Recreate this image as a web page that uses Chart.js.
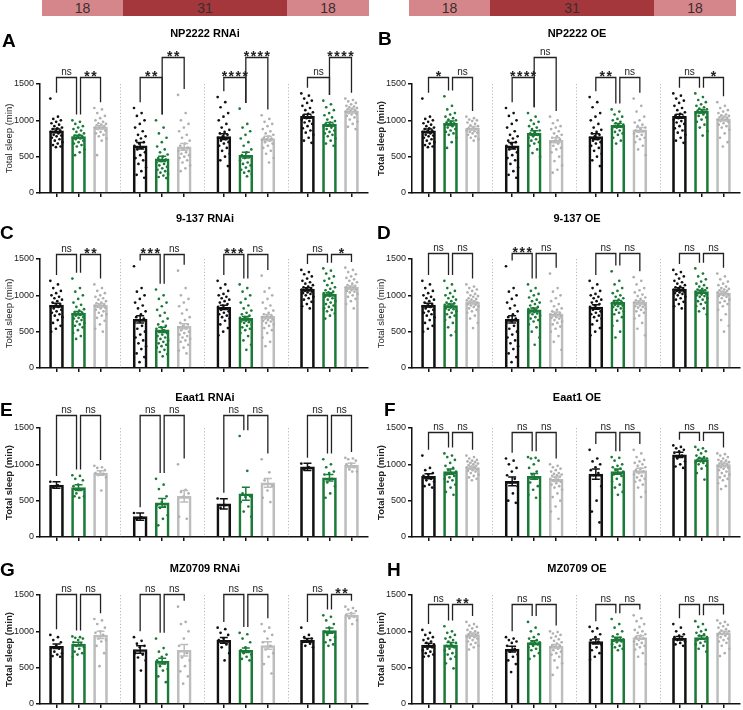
<!DOCTYPE html>
<html>
<head>
<meta charset="utf-8">
<script src="https://cdn.jsdelivr.net/npm/chart.js@4.4.1/dist/chart.umd.min.js"></script>
<style>
html, body { margin: 0; padding: 0; background: #fff; width: 743px; height: 710px; overflow: hidden; font-family: "Liberation Sans", Arial, sans-serif; }
canvas.pan { position: absolute; }
.hdr { position: absolute; top: 0; height: 16px; line-height: 16px; text-align: center; font-size: 14px; color: #3a2e2e; }
.lt { background: #d5868b; }
.dk { background: #a3373b; }
.let { position: absolute; font-weight: bold; font-size: 19px; line-height: 19px; color: #000; z-index: 2; }
.ttl { position: absolute; width: 200px; text-align: center; font-weight: bold; font-size: 11px; line-height: 12px; color: #000; z-index: 2; }
</style>
</head>
<body>
<div id="root"></div>
<script>
// ===== DADOS =====
const tempLabels = ["18", "31", "18"];
const panelIds = ["A", "B", "C", "D", "E", "F", "G", "H"];
const panelTitles = ["NP2222 RNAi", "NP2222 OE", "9-137 RNAi", "9-137 OE", "Eaat1 RNAi", "Eaat1 OE", "MZ0709 RNAi", "MZ0709 OE"];
const yTicks = [0, 500, 1000, 1500];

// A - NP2222 RNAi
const meanA = [855, 775, 905, 650, 470, 635, 775, 520, 750, 1055, 945, 1130];
const semA = [25, 20, 22, 45, 35, 45, 40, 40, 30, 28, 25, 22];
const sigA = ["ns", "**", "**", "**", "****", "****", "ns", "****"];
const levA = [1, 1, 1, 2, 1, 2, 1, 2];
const dotsA = [
  [1300,1050,1020,1000,980,960,940,920,900,890,880,860,850,840,820,800,790,780,760,740,720,700,680,660,640,630],
  [1000,980,950,920,900,880,860,840,820,800,790,780,770,760,750,740,720,700,680,660,640,600,560,520],
  [1170,1150,1100,1060,1030,1000,980,960,950,940,930,920,910,900,890,880,860,840,820,800,780,750,720,520],
  [1170,1100,1060,1000,950,900,850,800,780,750,720,700,680,650,620,600,560,520,480,450,400,350,300,250,210],
  [1000,900,820,760,700,640,600,560,530,500,480,460,440,420,400,380,360,340,320,300,280,260,240,220,205],
  [1350,1100,1000,950,900,850,800,760,720,680,650,620,600,580,560,540,520,500,480,450,420,380,340,300],
  [1320,1250,1180,1100,1050,1000,950,900,870,840,820,800,780,760,740,720,700,680,650,620,580,540,500,450,370],
  [1160,950,900,850,800,750,700,650,600,560,520,500,480,450,420,400,380,350,320,300,280,260,230],
  [1070,1020,980,950,920,880,850,820,800,780,760,750,740,730,720,700,680,650,620,580,540,480,420],
  [1370,1340,1300,1270,1240,1200,1170,1140,1110,1090,1070,1050,1030,1010,990,970,950,920,890,860,830,800,760,720,690],
  [1270,1220,1180,1140,1100,1070,1040,1010,990,970,950,940,930,920,900,880,860,840,820,800,780,750,720,680,650],
  [1300,1280,1260,1240,1220,1200,1190,1180,1170,1160,1150,1140,1130,1120,1110,1100,1090,1080,1060,1040,1010,980,950,910,880]
];

// B - NP2222 OE
const meanB = [855, 960, 895, 650, 825, 725, 775, 930, 870, 1055, 1125, 1020];
const semB = [25, 30, 20, 45, 30, 35, 40, 25, 30, 28, 25, 25];
const sigB = ["*", "ns", "****", "ns", "**", "ns", "ns", "*"];
const levB = [1, 1, 1, 2, 1, 1, 1, 1];
const dotsB = [
  [1300,1050,1020,1000,980,960,940,920,900,890,880,860,850,840,820,800,790,780,760,740,720,700,680,660,640,630],
  [1330,1200,1150,1100,1080,1050,1030,1010,1000,980,970,960,950,940,920,900,880,860,840,820,800,760,700,620],
  [1050,1030,1010,1000,990,970,950,930,920,900,890,880,870,860,850,840,830,820,800,780,760,740,720],
  [1170,1100,1060,1000,950,900,850,800,780,750,720,700,680,650,620,600,560,520,480,450,400,350,300,250,210],
  [1100,1050,1000,980,950,920,900,880,860,840,820,800,780,760,740,720,700,680,650,600,550,500],
  [1050,1000,960,920,900,880,850,820,800,780,760,740,720,700,680,650,620,600,560,500,440,380,320,280],
  [1320,1250,1180,1100,1050,1000,950,900,870,840,820,800,780,760,740,720,700,680,650,620,580,540,500,450,370],
  [1150,1120,1080,1050,1020,1000,980,960,940,930,920,910,900,880,860,840,820,800,760,720,680],
  [1300,1200,1120,1050,1000,970,940,920,900,880,860,850,840,820,800,780,760,740,700,650,600,520],
  [1370,1340,1300,1270,1240,1200,1170,1140,1110,1090,1070,1050,1030,1010,990,970,950,920,890,860,830,800,760,720,690],
  [1370,1320,1280,1250,1220,1200,1180,1160,1150,1140,1130,1120,1110,1100,1080,1060,1040,1010,980,940,900,850,790],
  [1250,1200,1170,1140,1120,1100,1080,1070,1060,1050,1040,1030,1020,1010,1000,990,980,960,940,920,900,870,820,760,700,640]
];

// C - 9-137 RNAi
const meanC = [865, 755, 865, 670, 525, 575, 835, 685, 710, 1085, 1015, 1110];
const semC = [25, 22, 20, 50, 35, 35, 30, 25, 25, 20, 20, 18];
const sigC = ["ns", "**", "***", "ns", "***", "ns", "ns", "*"];
const levC = [1, 1, 1, 1, 1, 1, 1, 1];
const dotsC = [
  [1200,1150,1100,1060,1030,1000,980,960,940,920,900,880,860,850,840,820,800,780,760,740,720,700,660,620,580,540,500],
  [1230,1100,1050,1000,950,900,870,840,810,790,770,760,750,740,730,720,700,690,680,660,640,620,600,580,560,520,480,440,400],
  [1150,1100,1060,1030,1000,980,960,940,920,900,890,880,870,860,850,840,830,820,800,780,760,740,720,690,650,600,540,500],
  [1400,1100,1050,1000,950,900,860,820,780,740,700,680,650,620,580,540,500,460,420,380,340,300,260,200,150,80],
  [1080,1000,950,900,850,800,760,720,680,640,600,580,560,540,520,500,480,460,440,420,400,380,360,340,320,300,280,250,220,190,160],
  [1340,1100,1000,950,900,850,800,750,700,660,620,600,580,560,540,520,500,480,460,440,420,400,380,360,320,280,240,200],
  [1200,1150,1100,1060,1020,1000,980,960,940,920,900,880,860,840,820,800,780,760,740,720,700,680,650,600,550,500,450],
  [1150,1100,1050,1000,950,900,860,820,790,760,740,720,700,690,680,670,660,650,640,630,620,600,580,560,540,520,480,440,380,320,250],
  [1270,1100,1050,1000,950,900,860,820,790,760,740,720,710,700,690,680,670,660,650,640,620,600,580,550,520,480,420,360,300],
  [1350,1320,1290,1260,1230,1200,1180,1160,1140,1120,1110,1100,1090,1080,1070,1060,1050,1040,1030,1020,1000,980,960,940,910,880,850,820],
  [1370,1340,1300,1260,1230,1200,1170,1140,1110,1090,1070,1050,1040,1030,1020,1010,1000,990,980,960,940,920,900,880,860,840,820,800,780,750,720,680],
  [1380,1350,1320,1290,1260,1240,1220,1200,1180,1160,1140,1130,1120,1110,1100,1090,1080,1070,1060,1050,1040,1020,1000,980,950,920,880,820]
];

// D - 9-137 OE
const meanD = [865, 860, 905, 670, 800, 745, 840, 905, 905, 1085, 1050, 1030];
const semD = [25, 20, 15, 50, 25, 25, 30, 25, 20, 20, 20, 18];
const sigD = ["ns", "ns", "***", "ns", "ns", "ns", "ns", "ns"];
const levD = [1, 1, 1, 1, 1, 1, 1, 1];
const dotsD = [
  [1200,1150,1100,1060,1030,1000,980,960,940,920,900,880,860,850,840,820,800,780,760,740,720,700,660,620,580,540,500],
  [1200,1150,1100,1060,1030,1000,980,960,940,920,900,890,880,870,860,850,840,830,820,810,800,780,760,740,720,700,660,620,560,500,450],
  [1150,1120,1100,1080,1060,1040,1020,1000,990,980,960,950,940,930,920,910,900,890,880,870,860,850,840,820,800,780,760,720,680,620,550],
  [1400,1100,1050,1000,950,900,860,820,780,740,700,680,650,620,580,540,500,460,420,380,340,300,260,200,150,80],
  [1150,1100,1060,1020,1000,970,940,920,900,880,860,840,820,810,800,790,780,770,760,750,740,720,700,680,660,640,600,560,500,420,320],
  [1300,1100,1050,1000,960,920,880,850,820,800,780,760,750,740,730,720,710,700,690,680,660,640,620,600,570,540,500,440,360,250],
  [1200,1150,1100,1060,1020,1000,980,960,940,920,900,880,860,840,820,800,780,760,740,720,700,680,650,600,550,500,450],
  [1330,1200,1150,1100,1060,1030,1000,980,960,940,920,910,900,890,880,870,860,850,840,820,800,780,760,740,700,650,580,500,420],
  [1250,1200,1150,1100,1070,1040,1010,990,970,950,930,920,910,900,890,880,870,860,850,840,830,820,800,780,760,720,680,620,540,450],
  [1350,1320,1290,1260,1230,1200,1180,1160,1140,1120,1110,1100,1090,1080,1070,1060,1050,1040,1030,1020,1000,980,960,940,910,880,850,820],
  [1370,1300,1260,1220,1190,1160,1140,1120,1100,1090,1080,1070,1060,1050,1040,1030,1020,1010,1000,990,980,960,940,920,900,880,850,820,780,740],
  [1300,1260,1220,1190,1160,1140,1120,1100,1090,1080,1070,1060,1050,1040,1030,1020,1010,1000,990,980,960,940,920,900,880,850,800,740,660,580,500]
];

// E - Eaat1 RNAi
const meanE = [715, 680, 880, 280, 470, 560, 455, 595, 745, 965, 815, 985];
const semE = [45, 40, 30, 50, 60, 80, 70, 90, 60, 50, 45, 30];
const sigE = ["ns", "ns", "ns", "ns", "ns", "ns", "ns", "ns"];
const levE = [1, 1, 1, 1, 1, 1, 1, 1];
const dotsE = [
  [760,710,680],
  [850,840,800,780,720,700,650,600,560,540,560],
  [980,960,950,920,900,880,870,850,820,640],
  [330,270,240],
  [800,720,660,560,480,440,420,400,300,250,160],
  [1000,650,620,600,560,280,250],
  [530,440,400],
  [1390,910,600,560,550,480,420,350,280],
  [1070,890,780,700,640,540,480],
  [1010,960,930],
  [1070,1000,960,900,880,860,800,750,700,600,540],
  [1090,1080,1070,1050,1010,1000,960,930,900,900]
];

// F - Eaat1 OE
const meanF = [835, 900, 955, 765, 835, 795, 865, 900, 915, 1130, 1065, 995];
const semF = [35, 35, 18, 60, 40, 30, 70, 35, 30, 35, 20, 20];
const sigF = ["ns", "ns", "ns", "ns", "ns", "ns", "ns", "ns"];
const levF = [1, 1, 1, 1, 1, 1, 1, 1];
const dotsF = [
  [1120,950,920,880,860,840,800,780,760,720,700,680],
  [1150,1120,1100,1060,1020,980,950,920,900,880,860,840,820,800,780,760,720,680,620,580],
  [1120,1100,1080,1060,1050,1040,1030,1020,1010,1000,990,980,970,960,950,940,930,920,910,900,880,860,840,820,800,780],
  [1080,1050,1000,950,900,850,800,750,700,600,500,470],
  [1100,1090,1080,1050,1000,950,900,860,820,800,750,700,650,580,540],
  [1000,980,960,940,920,900,880,870,860,850,840,830,820,800,790,780,760,740,720,700,680,650,600,550,500,420,350,250],
  [1200,1080,1040,1000,960,920,880,850,700,500,350,200],
  [1100,1090,1050,1000,980,960,940,920,900,880,860,840,800,760,720,680,620,580],
  [1200,1150,1100,1060,1040,1020,1000,980,960,940,920,900,880,860,840,820,800,780,760,720,680,620,550],
  [1260,1240,1220,1200,1180,1160,1120,1080,1040,1000,970,950],
  [1240,1220,1200,1180,1150,1120,1100,1090,1080,1070,1060,1050,1040,1030,1020,1000,980,940,880,790],
  [1150,1140,1120,1100,1080,1060,1050,1040,1030,1020,1010,1000,990,980,970,960,950,940,920,900,880,860,840,820,800,780,740,700,660]
];

// G - MZ0709 RNAi
const meanG = [795, 825, 950, 750, 590, 740, 875, 740, 805, 875, 1010, 1225];
const semG = [30, 25, 50, 50, 40, 80, 40, 30, 50, 25, 35, 20];
const sigG = ["ns", "ns", "ns", "ns", "ns", "ns", "ns", "**"];
const levG = [1, 1, 1, 1, 1, 1, 1, 1];
const dotsG = [
  [950,920,880,850,800,780,760,720,700,680,660,650],
  [930,920,910,900,880,850,820,800,780,760,720,700,680,650],
  [1170,1150,1100,1050,1000,980,950,900,880,860,800,700,520],
  [920,870,830,800,780,700,680,640,600,460],
  [900,770,720,680,650,600,560,520,480,460,380,300],
  [1340,1130,1100,1000,900,800,700,640,600,520,450,380,280],
  [1050,1030,980,950,900,880,820,780,700,600],
  [980,960,900,850,780,740,720,700,680,650,620,600],
  [1100,1050,1000,950,900,850,800,750,700,650,550,420],
  [1050,950,920,900,880,850,830,800,780],
  [1220,1200,1150,1100,1050,1000,980,950,920,880,850,820,800],
  [1340,1320,1300,1280,1250,1230,1200,1180,1150,1100]
];

// H - MZ0709 OE
const meanH = [810, 815, 955, 755, 845, 795, 860, 895, 915, 905, 915, 980];
const semH = [25, 30, 20, 40, 25, 25, 35, 25, 25, 25, 25, 20];
const sigH = ["ns", "**", "ns", "ns", "ns", "ns", "ns", "ns"];
const levH = [1, 1, 1, 1, 1, 1, 1, 1];
const dotsH = [
  [1020,980,950,920,900,880,860,840,820,800,790,780,760,740,720,700,680,660,650],
  [1070,1000,980,950,920,900,880,860,840,820,800,780,760,740,700,680,650,620,560,490],
  [1130,1100,1080,1060,1040,1020,1000,990,980,970,960,950,940,930,920,910,900,880,860,840,820,800,780,750],
  [920,900,880,860,840,800,760,720,680,650,600,550,440],
  [1130,1050,1000,960,920,900,880,860,850,840,830,820,800,780,760,740,700,660,620],
  [1000,990,970,950,930,910,890,870,850,830,810,800,790,780,760,740,720,700,680,650,600,560,500,400],
  [1060,1040,1000,960,920,880,860,840,820,780,740,700,650,610],
  [1170,1100,1050,1000,960,930,910,900,890,880,870,860,850,820,800,780,760,740],
  [1220,1180,1140,1100,1060,1020,1000,980,960,940,920,900,880,860,840,820,800,780,750,700,650,550],
  [1100,1050,1000,960,940,920,900,880,860,840,820,800],
  [1140,1100,1060,1020,1000,980,960,940,920,900,880,860,840,820,800,760,720],
  [1150,1130,1110,1090,1070,1050,1030,1010,1000,990,980,970,960,950,940,920,900,880,860,840,800,760,700,660]
];

// ===== LAYOUT / ESTILO =====
const FONT = '"Liberation Sans", Arial, sans-serif';
const barColors = ["#111111", "#1b7a38", "#bdbdbd"];
const dotColors = ["#111111", "#1b7a38", "#b0b0b0"];
const groupStart = [0, 3.8, 7.6, 11.4];
const rowZero = [193, 368, 537, 704];
const bracketY = { A: [1600, 1870], B: [1600, 1870], C: [1575], D: [1585], E: [1685], F: [1445], G: [1510], H: [1380] };
const boldY = { A: false, B: true, C: false, D: false, E: true, F: true, G: true, H: true };
const letterPos = { A: [2, 31], B: [378, 29], C: [0, 223], D: [377, 223], E: [0, 400], F: [384, 400], G: [0, 560], H: [387, 560] };
const titleY = [27, 212, 391, 562];

const panelData = {
  A: [meanA, semA, dotsA, sigA, levA], B: [meanB, semB, dotsB, sigB, levB],
  C: [meanC, semC, dotsC, sigC, levC], D: [meanD, semD, dotsD, sigD, levD],
  E: [meanE, semE, dotsE, sigE, levE], F: [meanF, semF, dotsF, sigF, levF],
  G: [meanG, semG, dotsG, sigG, levG], H: [meanH, semH, dotsH, sigH, levH]
};

const root = document.getElementById("root");

// ===== CABEÇALHO DE TEMPERATURA =====
[42, 409].forEach(x0 => {
  const segs = [[0, 81, "lt"], [81, 164, "dk"], [245, 82, "lt"]];
  segs.forEach((s, i) => {
    const d = document.createElement("div");
    d.className = "hdr " + s[2];
    d.style.left = (x0 + s[0]) + "px";
    d.style.width = s[1] + "px";
    d.textContent = tempLabels[i];
    root.appendChild(d);
  });
});

// posições x das barras
const barX = [];
groupStart.forEach(g => { for (let b = 0; b < 3; b++) barX.push(g + b); });

// jitter horizontal dos pontos (só layout)
function jit(j) { return (((j * 0.6180339) % 1) - 0.5) * 0.56; }

// ===== PLUGIN: separadores, barras de erro e colchetes =====
const extras = {
  id: "extras",
  beforeDatasetsDraw(chart) {
    const { ctx, scales: { x, y } } = chart;
    ctx.save();
    ctx.strokeStyle = "#a8a8a8";
    ctx.lineWidth = 0.8;
    ctx.setLineDash([1.2, 2]);
    for (let g = 1; g < 4; g++) {
      const px = Math.round(x.getPixelForValue((groupStart[g - 1] + 2 + groupStart[g]) / 2)) + 0.5;
      ctx.beginPath();
      ctx.moveTo(px, y.getPixelForValue(1500));
      ctx.lineTo(px, y.getPixelForValue(0));
      ctx.stroke();
    }
    ctx.restore();
  },
  afterDatasetsDraw(chart) {
    const { ctx, scales: { x, y } } = chart;
    const id = chart.options.panelId;
    const [mean, sem, dots, sig, lev] = panelData[id];
    ctx.save();
    // barras de erro (média ± EPM)
    ctx.lineWidth = 1.5;
    mean.forEach((m, i) => {
      const px = x.getPixelForValue(barX[i]);
      const y1 = y.getPixelForValue(m + sem[i]), y2 = y.getPixelForValue(m - sem[i]);
      ctx.strokeStyle = barColors[i % 3];
      ctx.beginPath();
      ctx.moveTo(px, y1); ctx.lineTo(px, y2);
      ctx.moveTo(px - 4, y1); ctx.lineTo(px + 4, y1);
      ctx.moveTo(px - 4, y2); ctx.lineTo(px + 4, y2);
      ctx.stroke();
    });
    // colchetes de significância
    ctx.strokeStyle = "#222";
    ctx.fillStyle = "#222";
    ctx.lineWidth = 1.3;
    sig.forEach((lab, k) => {
      const g = Math.floor(k / 2), a = k % 2, b = a + 1;
      const level = bracketY[id][lev[k] - 1];
      const sameLevel = lev[g * 2] === lev[g * 2 + 1];
      let xa = x.getPixelForValue(groupStart[g] + a);
      let xb = x.getPixelForValue(groupStart[g] + b);
      if (sameLevel) { if (a === 1) xa += 2; else xb -= 2; }
      const legA = Math.min(Math.max(...dots[g * 3 + a]) + 80, level - 60);
      const legB = Math.min(Math.max(...dots[g * 3 + b]) + 80, level - 60);
      const top = Math.round(y.getPixelForValue(level)) + 0.5;
      ctx.beginPath();
      ctx.moveTo(xa, y.getPixelForValue(legA));
      ctx.lineTo(xa, top);
      ctx.lineTo(xb, top);
      ctx.lineTo(xb, y.getPixelForValue(legB));
      ctx.stroke();
      const star = lab.indexOf("*") >= 0;
      ctx.textAlign = "center";
      ctx.textBaseline = "alphabetic";
      if (star) {
        ctx.font = "bold 14px " + FONT;
        ctx.letterSpacing = "1.5px";
        ctx.fillText(lab, (xa + xb) / 2 + 0.75, top + 3);
      } else {
        ctx.font = "10px " + FONT;
        ctx.letterSpacing = "0px";
        ctx.fillText(lab, (xa + xb) / 2, top - 3);
      }
    });
    ctx.restore();
  }
};

// ===== MONTA OS PAINÉIS =====
panelIds.forEach((id, p) => {
  const col = p % 2, row = Math.floor(p / 2);
  const left = col * 372;
  const [mean, sem, dots] = panelData[id];

  const cv = document.createElement("canvas");
  cv.className = "pan";
  cv.width = 372; cv.height = 168;
  cv.style.left = left + "px";
  cv.style.top = (rowZero[row] - 160) + "px";
  root.appendChild(cv);

  const lt = document.createElement("div");
  lt.className = "let";
  lt.style.left = letterPos[id][0] + "px";
  lt.style.top = letterPos[id][1] + "px";
  lt.textContent = id;
  root.appendChild(lt);

  const tt = document.createElement("div");
  tt.className = "ttl";
  tt.style.left = (left + 105) + "px";
  tt.style.top = titleY[row] + "px";
  tt.textContent = panelTitles[p];
  root.appendChild(tt);

  const datasets = [{
    type: "bar",
    data: mean.map((m, i) => ({ x: barX[i], y: m })),
    backgroundColor: "rgba(255,255,255,0)",
    borderColor: mean.map((m, i) => barColors[i % 3]),
    borderWidth: 2,
    borderSkipped: "start",
    barThickness: 14,
    order: 2
  }];
  for (let c = 0; c < 3; c++) {
    const pts = [];
    for (let g = 0; g < 4; g++) {
      const i = g * 3 + c;
      dots[i].forEach((v, j) => pts.push({ x: barX[i] + jit(j), y: v }));
    }
    datasets.push({
      type: "scatter",
      data: pts,
      pointRadius: 1.35,
      pointBorderWidth: 0,
      pointBackgroundColor: dotColors[c],
      showLine: false,
      order: 1
    });
  }

  new Chart(cv, {
    type: "bar",
    data: { datasets },
    plugins: [extras],
    options: {
      panelId: id,
      responsive: false,
      animation: false,
      events: [],
      layout: { padding: { top: 51, right: 4, left: 0, bottom: 0 } },
      plugins: { legend: { display: false }, tooltip: { enabled: false } },
      scales: {
        x: {
          type: "linear", min: -0.75, max: 14.15, offset: false,
          afterBuildTicks: s => { s.ticks = barX.map(v => ({ value: v })); },
          ticks: { display: false },
          grid: { drawOnChartArea: false, drawTicks: true, tickLength: 4, color: "#111", lineWidth: 1.5, offset: false },
          border: { display: true, color: "#111", width: 1.5 },
          afterFit: s => { s.height = 8; s.paddingLeft = 0; s.paddingRight = 0; }
        },
        y: {
          min: 0, max: 1500,
          afterBuildTicks: s => { s.ticks = yTicks.map(v => ({ value: v })); },
          ticks: { font: { size: 9, family: FONT }, color: "#222", padding: 2, callback: v => String(v) },
          grid: { drawOnChartArea: false, drawTicks: true, tickLength: 4, color: "#111", lineWidth: 1.5 },
          border: { display: true, color: "#111", width: 1.5 },
          title: { display: true, text: "Total sleep (min)", color: "#222", font: { size: 9.5, family: FONT, weight: boldY[id] ? "bold" : "normal" }, padding: { top: 4, bottom: 0 } },
          afterFit: s => { s.width = 40; s.paddingTop = 0; s.paddingBottom = 0; }
        }
      }
    }
  });
});
</script>
</body>
</html>
